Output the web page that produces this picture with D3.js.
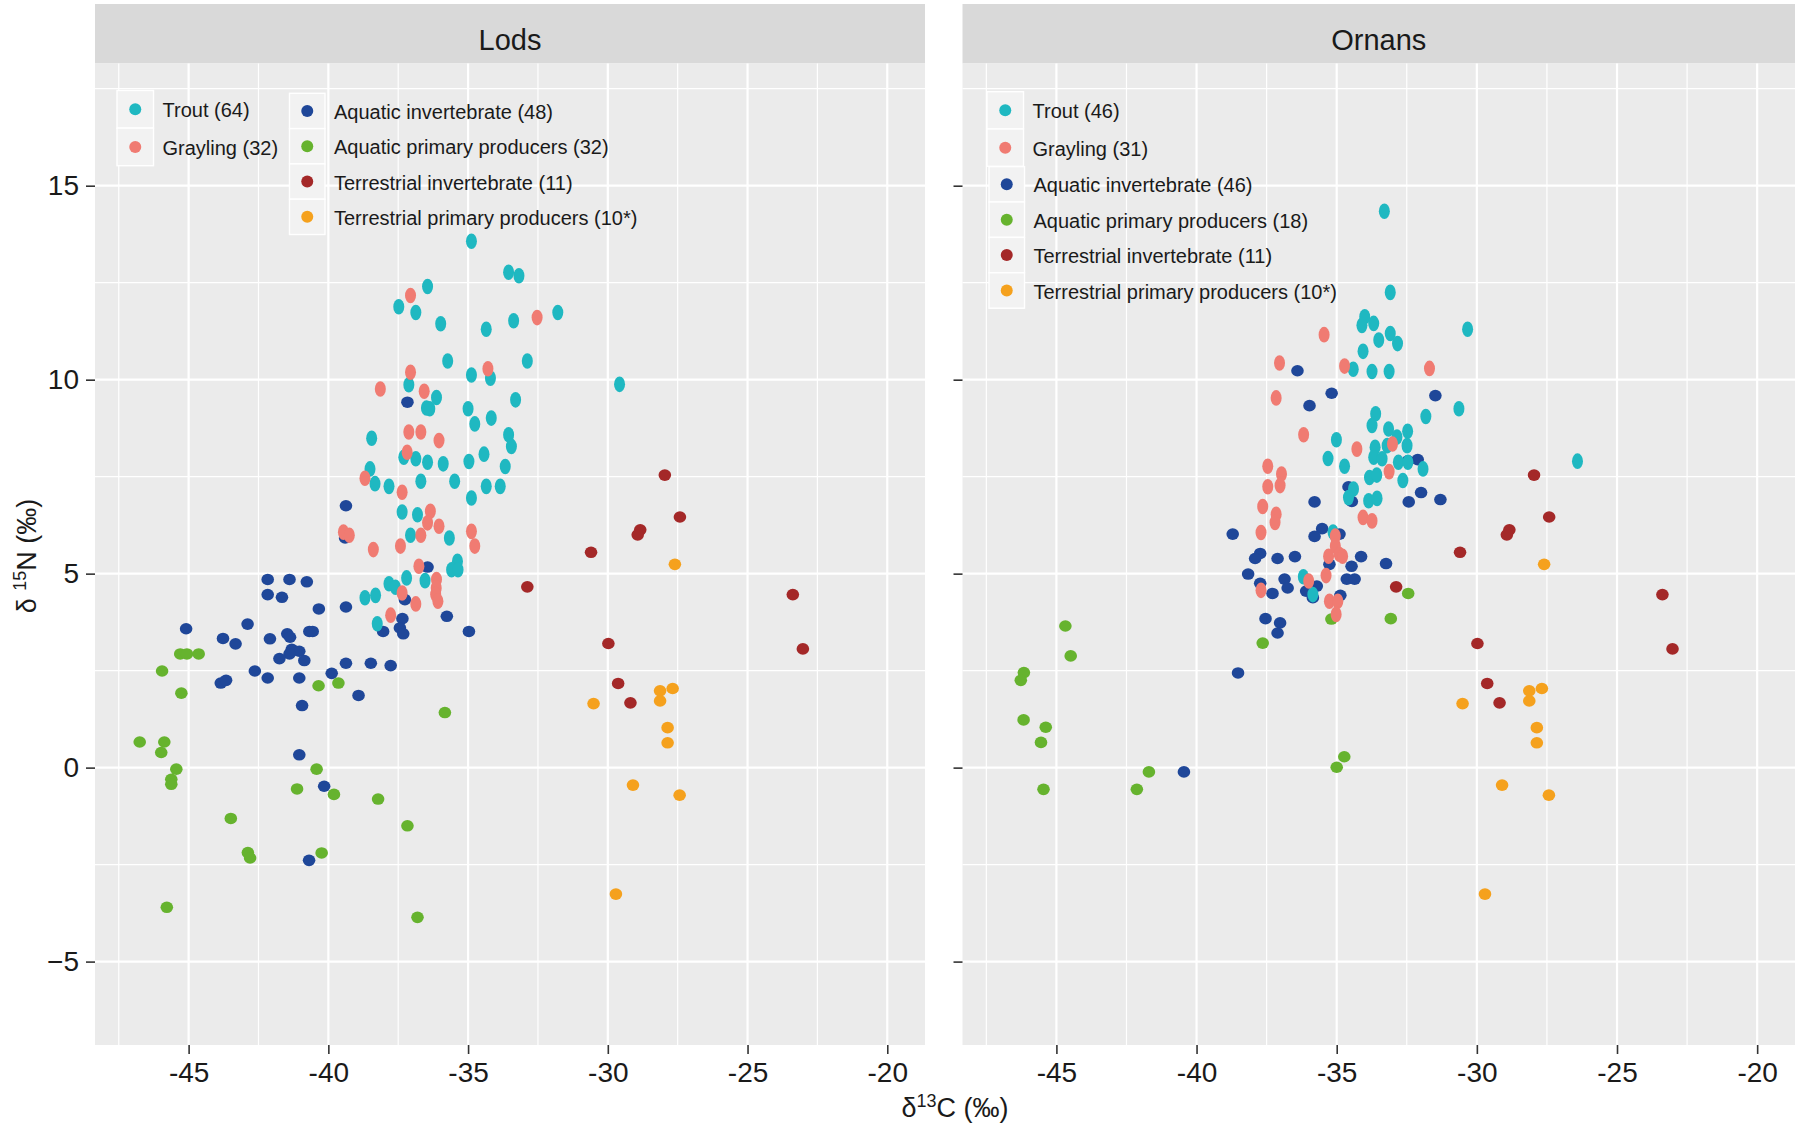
<!DOCTYPE html>
<html>
<head>
<meta charset="utf-8">
<script src="https://cdn.jsdelivr.net/npm/d3@7"></script>
<style>
  body { margin: 0; background: #ffffff; }
  text { font-family: "Liberation Sans", Arial, Helvetica, sans-serif; }
</style>
</head>
<body>
<svg id="chart" width="1797" height="1125"></svg>
<script>
// ---- groups, colours, labels ----
const groups = ["Trout", "Grayling", "Aquatic invertebrate", "Aquatic primary producers",
                "Terrestrial invertebrate", "Terrestrial primary producers"];
const groupColors = ["#1FB8C1", "#F07B72", "#1F4799", "#66B32E", "#A42828", "#F5A11D"];
const sites = ["Lods", "Ornans"];
const lodsCounts = ["64", "32", "48", "32", "11", "10*"];
const ornansCounts = ["46", "31", "46", "18", "11", "10*"];
const xTicks = [-45, -40, -35, -30, -25, -20];
const yTicks = [-5, 0, 5, 10, 15];
const xMinor = [-47.5, -42.5, -37.5, -32.5, -27.5, -22.5];
const yMinor = [-2.5, 2.5, 7.5, 12.5, 17.5];
const xDomain = [-48.35, -18.65];
const yDomain = [-7.15, 18.15];

// ---- isotope values: [d13C, d15N] ----
const lodsTrout = [
  [-34.88,13.57],[-33.55,12.77],[-33.18,12.68],[-36.45,12.40],[-37.48,11.88],[-36.87,11.73],
  [-35.98,11.44],[-31.79,11.73],[-33.37,11.52],[-34.35,11.30],[-32.88,10.48],[-35.73,10.48],
  [-34.88,10.12],[-34.20,10.04],[-37.12,9.87],[-36.13,9.54],[-36.49,9.27],[-36.37,9.25],
  [-33.30,9.48],[-35.00,9.25],[-34.76,8.86],[-34.17,9.01],[-33.55,8.58],[-33.45,8.28],
  [-38.45,8.49],[-37.30,8.00],[-36.87,7.96],[-36.45,7.87],[-35.89,7.83],[-34.97,7.89],
  [-34.43,8.08],[-33.67,7.76],[-38.51,7.70],[-38.33,7.32],[-37.83,7.25],[-36.69,7.38],
  [-35.48,7.38],[-34.35,7.25],[-33.85,7.25],[-34.88,6.95],[-37.36,6.59],[-36.81,6.52],
  [-37.06,5.99],[-35.67,5.92],[-35.38,5.32],[-35.59,5.10],[-35.36,5.10],[-36.54,4.82],
  [-37.20,4.89],[-37.83,4.74],[-37.60,4.65],[-38.31,4.44],[-38.69,4.38],[-38.25,3.71],
  [-29.58,9.88]
];
const lodsGrayling = [
  [-37.06,12.17],[-32.53,11.60],[-37.06,10.19],[-34.29,10.28],[-38.14,9.76],[-36.57,9.70],
  [-37.12,8.65],[-36.69,8.65],[-36.04,8.43],[-37.18,8.13],[-38.69,7.46],[-37.36,7.10],
  [-36.35,6.61],[-36.45,6.31],[-36.04,6.22],[-36.69,5.99],[-34.88,6.09],[-34.76,5.71],
  [-39.46,6.07],[-39.25,5.99],[-38.39,5.62],[-37.42,5.71],[-36.76,5.19],[-36.13,4.85],
  [-36.14,4.63],[-36.16,4.46],[-36.08,4.29],[-37.36,4.50],[-36.87,4.22],[-37.77,3.93]
];
const lodsInvertebrates = [
  [-42.17,4.85],[-41.39,4.85],[-40.77,4.79],[-42.17,4.46],[-41.66,4.39],[-40.34,4.09],
  [-39.37,4.14],[-45.09,3.58],[-42.89,3.70],[-43.77,3.33],[-43.32,3.19],[-42.09,3.32],
  [-41.47,3.45],[-41.37,3.36],[-40.68,3.51],[-40.56,3.51],[-41.31,3.05],[-41.04,3.00],
  [-41.39,2.93],[-41.75,2.81],[-40.86,2.76],[-39.88,2.43],[-39.37,2.69],[-38.48,2.69],
  [-37.77,2.63],[-42.63,2.49],[-42.17,2.31],[-41.04,2.31],[-43.85,2.18],[-43.66,2.25],
  [-38.92,1.86],[-40.94,1.60],[-41.04,0.33],[-40.15,-0.48],[-40.69,-2.39],[-36.45,5.17],
  [-37.26,4.33],[-37.35,3.84],[-38.04,3.51],[-37.44,3.60],[-37.32,3.45],[-35.76,3.90],
  [-34.97,3.51],[-37.17,9.42],[-39.37,6.75],[-39.40,5.92]
];
const lodsProducers = [
  [-45.95,2.49],[-45.26,1.92],[-45.30,2.93],[-45.06,2.93],[-44.64,2.93],[-46.75,0.66],
  [-45.87,0.66],[-45.98,0.39],[-45.44,-0.04],[-45.62,-0.30],[-45.62,-0.43],[-43.49,-1.31],
  [-42.88,-2.19],[-42.80,-2.33],[-45.78,-3.60],[-40.35,2.11],[-39.64,2.18],[-40.42,-0.04],
  [-41.12,-0.55],[-39.80,-0.69],[-38.22,-0.81],[-37.17,-1.50],[-40.24,-2.20],[-36.81,-3.86],
  [-35.83,1.42]
];
// terrestrial sources are shared by both sites
const terrestrialInvertebrates = [
  [-27.96,7.54],[-27.42,6.46],[-28.84,6.13],[-28.93,6.00],[-30.60,5.55],[-32.88,4.66],
  [-23.38,4.46],[-23.02,3.06],[-29.98,3.20],[-29.63,2.17],[-29.19,1.67]
];
const terrestrialProducers = [
  [-27.60,5.24],[-30.51,1.65],[-28.13,1.98],[-27.68,2.04],[-28.13,1.72],[-27.86,1.03],
  [-27.86,0.64],[-29.10,-0.45],[-27.43,-0.71],[-29.71,-3.26]
];
const ornansTrout = [
  [-33.30,14.34],[-33.09,12.25],[-34.00,11.62],[-34.10,11.40],[-33.68,11.45],[-33.09,11.19],
  [-32.83,10.93],[-33.50,11.02],[-30.33,11.30],[-34.06,10.73],[-34.41,10.27],[-33.74,10.21],
  [-33.13,10.21],[-30.64,9.25],[-31.82,9.05],[-33.61,9.12],[-33.74,8.82],[-33.15,8.73],
  [-32.47,8.67],[-32.85,8.52],[-35.01,8.45],[-33.63,8.26],[-33.20,8.30],[-35.31,7.97],
  [-32.49,8.30],[-36.19,4.92],[-35.85,4.46],[-35.13,6.07],[-34.72,7.77],[-33.68,8.00],
  [-33.38,7.96],[-33.83,7.48],[-33.57,7.54],[-32.80,7.87],[-32.46,7.87],[-31.92,7.70],
  [-32.64,7.40],[-34.40,7.18],[-34.58,6.96],[-33.86,6.88],[-33.56,6.94],[-26.41,7.90]
];
const ornansGrayling = [
  [-37.46,7.77],[-36.97,7.57],[-37.46,7.24],[-37.02,7.27],[-37.64,6.73],[-37.16,6.53],
  [-37.20,6.32],[-37.70,6.06],[-34.28,8.21],[-33.13,7.63],[-34.06,6.45],[-33.74,6.36],
  [-35.05,5.97],[-35.05,5.71],[-35.29,5.45],[-34.91,5.50],[-34.79,5.45],[-35.38,4.95],
  [-36.00,4.81],[-37.70,4.57],[-35.26,4.29],[-34.96,4.29],[-35.02,3.95],[-33.01,8.34],
  [-35.45,11.16],[-37.04,10.43],[-34.72,10.35],[-31.69,10.29],[-37.16,9.53],[-36.18,8.58]
];
const ornansInvertebrates = [
  [-38.71,6.02],[-35.79,6.85],[-32.43,6.85],[-31.99,7.09],[-31.30,6.91],[-32.11,7.94],
  [-32.46,7.91],[-34.58,7.24],[-34.46,6.86],[-35.52,6.16],[-35.79,5.96],[-34.90,6.02],
  [-37.73,5.52],[-37.91,5.39],[-37.11,5.39],[-36.49,5.44],[-34.13,5.44],[-34.47,5.19],
  [-33.24,5.26],[-35.26,5.24],[-38.16,4.99],[-37.73,4.75],[-37.29,4.49],[-36.86,4.86],
  [-36.75,4.63],[-36.09,4.55],[-35.71,4.68],[-35.85,4.38],[-34.64,4.86],[-34.36,4.86],
  [-34.87,4.44],[-37.54,3.84],[-37.02,3.73],[-37.11,3.47],[-38.52,2.44],[-36.40,10.23],
  [-35.18,9.65],[-35.97,9.33],[-31.48,9.59],[-40.45,-0.11]
];
const ornansProducers = [
  [-44.68,3.65],[-44.49,2.88],[-46.16,2.45],[-46.27,2.25],[-46.17,1.23],[-45.38,1.04],
  [-45.55,0.65],[-45.46,-0.56],[-41.70,-0.11],[-42.13,-0.56],[-37.64,3.21],[-34.73,0.28],
  [-35.00,0.01],[-35.19,3.83],[-33.07,3.84],[-32.45,4.49]
];

// per-site series in legend order
const siteSeries = {
  Lods:   [lodsTrout, lodsGrayling, lodsInvertebrates, lodsProducers, terrestrialInvertebrates, terrestrialProducers],
  Ornans: [ornansTrout, ornansGrayling, ornansInvertebrates, ornansProducers, terrestrialInvertebrates, terrestrialProducers]
};
const siteCounts = { Lods: lodsCounts, Ornans: ornansCounts };

// ---- layout ----
const svg = d3.select("#chart");
const panelTop = 63.5, panelBottom = 1045;
const stripTop = 4;
const panels = [
  { site: "Lods",   left: 95,    right: 925 },
  { site: "Ornans", left: 962.5, right: 1795 }
];
// legend layouts: key blocks (fish, then food sources)
const legendLayout = {
  Lods: [
    { x: 117, y: 90.5, w: 36.5, h: 37.6, items: [0, 1] },
    { x: 289.5, y: 93.3, w: 35.5, h: 35.3, items: [2, 3, 4, 5] }
  ],
  Ornans: [
    { x: 987, y: 91.7, w: 36.5, h: 37.3, items: [0, 1] },
    { x: 989, y: 166.6, w: 35.5, h: 35.4, items: [2, 3, 4, 5] }
  ]
};

const y = d3.scaleLinear().domain(yDomain).range([panelBottom, panelTop]);

panels.forEach((p, pi) => {
  const x = d3.scaleLinear().domain(xDomain).range([p.left, p.right]);
  const g = svg.append("g");

  // strip
  g.append("rect").attr("x", p.left).attr("y", stripTop)
    .attr("width", p.right - p.left).attr("height", panelTop - stripTop)
    .attr("fill", "#D9D9D9");
  g.append("text").attr("x", (p.left + p.right) / 2).attr("y", 40)
    .attr("text-anchor", "middle").attr("dominant-baseline", "central")
    .attr("font-size", 29).attr("fill", "#1A1A1A").text(p.site);

  // panel background
  g.append("rect").attr("x", p.left).attr("y", panelTop)
    .attr("width", p.right - p.left).attr("height", panelBottom - panelTop)
    .attr("fill", "#EBEBEB");

  // grid
  const grid = g.append("g");
  grid.selectAll("line.xminor").data(xMinor).join("line")
    .attr("x1", d => x(d)).attr("x2", d => x(d)).attr("y1", panelTop).attr("y2", panelBottom)
    .attr("stroke", "#FFFFFF").attr("stroke-width", 1.2);
  grid.selectAll("line.yminor").data(yMinor.filter(v => v > yDomain[0] && v < yDomain[1])).join("line")
    .attr("x1", p.left).attr("x2", p.right).attr("y1", d => y(d)).attr("y2", d => y(d))
    .attr("stroke", "#FFFFFF").attr("stroke-width", 1.2);
  grid.selectAll("line.xmajor").data(xTicks).join("line")
    .attr("x1", d => x(d)).attr("x2", d => x(d)).attr("y1", panelTop).attr("y2", panelBottom)
    .attr("stroke", "#FFFFFF").attr("stroke-width", 2.2);
  grid.selectAll("line.ymajor").data(yTicks).join("line")
    .attr("x1", p.left).attr("x2", p.right).attr("y1", d => y(d)).attr("y2", d => y(d))
    .attr("stroke", "#FFFFFF").attr("stroke-width", 2.2);

  // x axis
  const xAxis = d3.axisBottom(x).tickValues(xTicks).tickSize(9).tickPadding(8).tickFormat(d3.format("d"));
  const xa = svg.append("g").attr("transform", `translate(0,${panelBottom})`).call(xAxis);
  xa.select(".domain").remove();
  xa.selectAll(".tick line").attr("stroke", "#333333").attr("stroke-width", 1.6);
  xa.selectAll(".tick text").attr("font-size", 28).attr("fill", "#1A1A1A")
    .attr("font-family", "'Liberation Sans', Arial, sans-serif")
    .text(d => String(d));

  // y axis (labels only on the first panel)
  const yAxis = d3.axisLeft(y).tickValues(yTicks).tickSize(9).tickPadding(7);
  if (pi > 0) yAxis.tickFormat(() => "");
  const ya = svg.append("g").attr("transform", `translate(${p.left},0)`).call(yAxis);
  ya.select(".domain").remove();
  ya.selectAll(".tick line").attr("stroke", "#333333").attr("stroke-width", 1.6);
  ya.selectAll(".tick text").attr("font-size", 28).attr("fill", "#1A1A1A")
    .attr("font-family", "'Liberation Sans', Arial, sans-serif");

  // points: food sources first, then fish on top
  const series = siteSeries[p.site];
  const drawOrder = [2, 3, 4, 5, 0, 1];
  const pts = g.append("g");
  drawOrder.forEach(gi => {
    const fish = gi < 2;
    pts.append("g").selectAll("ellipse").data(series[gi]).join("ellipse")
      .attr("cx", d => x(d[0])).attr("cy", d => y(d[1]))
      .attr("rx", fish ? 5.5 : 6.3).attr("ry", fish ? 7.8 : 5.8)
      .attr("fill", groupColors[gi]);
  });

  // legends
  const counts = siteCounts[p.site];
  legendLayout[p.site].forEach(block => {
    const lg = g.append("g");
    block.items.forEach((gi, k) => {
      const ky = block.y + k * block.h;
      lg.append("rect").attr("x", block.x).attr("y", ky)
        .attr("width", block.w).attr("height", block.h)
        .attr("fill", "#F2F2F2").attr("stroke", "#FFFFFF").attr("stroke-width", 1.4);
      lg.append("circle").attr("cx", block.x + block.w / 2).attr("cy", ky + block.h / 2)
        .attr("r", 6).attr("fill", groupColors[gi]);
      lg.append("text").attr("x", block.x + block.w + 9).attr("y", ky + block.h / 2 + 1)
        .attr("dominant-baseline", "central").attr("font-size", 20).attr("fill", "#1A1A1A")
        .text(`${groups[gi]} (${counts[gi]})`);
    });
  });
});

// axis titles
const xTitle = svg.append("text").attr("x", 955).attr("y", 1117)
  .attr("text-anchor", "middle").attr("font-size", 27).attr("fill", "#1A1A1A");
xTitle.append("tspan").text("δ");
xTitle.append("tspan").attr("font-size", 18).attr("dy", -10).text("13");
xTitle.append("tspan").attr("dy", 10).text("C (‰)");

const yTitle = svg.append("text")
  .attr("transform", "translate(36,556) rotate(-90)")
  .attr("text-anchor", "middle").attr("font-size", 27).attr("fill", "#1A1A1A");
yTitle.append("tspan").text("δ ");
yTitle.append("tspan").attr("font-size", 18).attr("dy", -10).text("15");
yTitle.append("tspan").attr("dy", 10).text("N (‰)");
</script>
</body>
</html>
